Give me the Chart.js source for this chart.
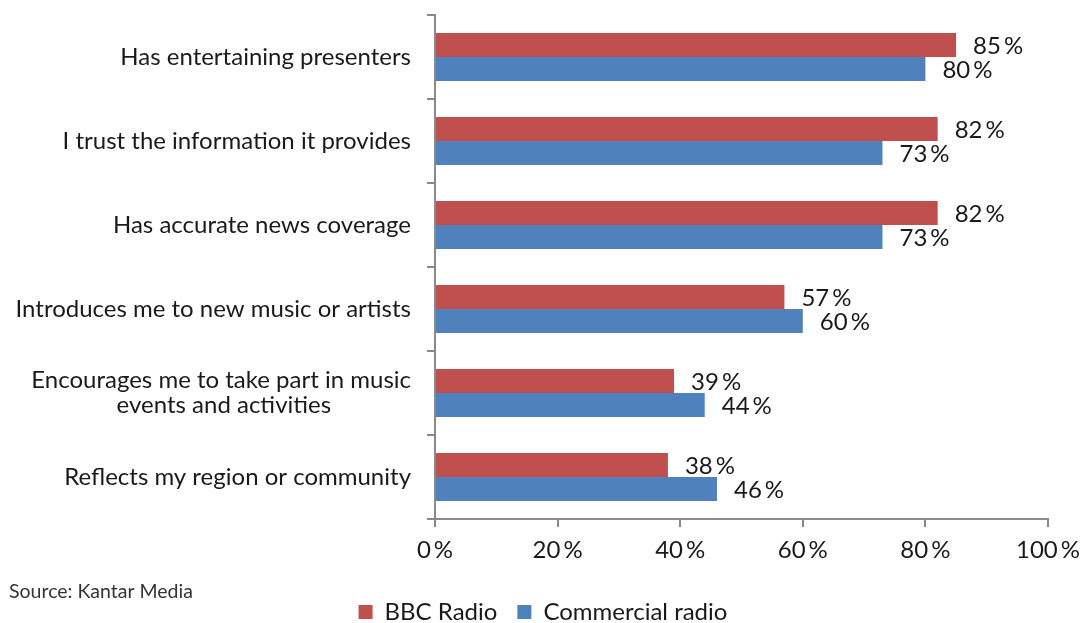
<!DOCTYPE html>
<html>
<head>
<meta charset="utf-8">
<script src="https://cdn.jsdelivr.net/npm/chart.js@4/dist/chart.umd.min.js"></script>
<style>
html,body{margin:0;padding:0;background:#fff;overflow:hidden;}
#wrap{width:1086px;height:623px;position:relative;}
</style>
</head>
<body>
<div id="wrap"><canvas id="c" width="1086" height="623"></canvas></div>
<script>
const categories = [
  "Has entertaining presenters",
  "I trust the information it provides",
  "Has accurate news coverage",
  "Introduces me to new music or artists",
  ["Encourages me to take part in music", "events and activities"],
  "Reflects my region or community"
];
const seriesNames = ["BBC Radio", "Commercial radio"];
const bbcValues = [85, 82, 82, 57, 39, 38];
const commercialValues = [80, 73, 73, 60, 44, 46];
const xTicks = [0, 20, 40, 60, 80, 100];
const sourceText = "Source: Kantar Media";

const FONT = "Lato, 'Open Sans', sans-serif";
const PCT = "\u2009%";
const LABEL_FONT_SIZE = 24;

// centre the lines of multi-line category labels (right-aligned block)
const measureCtx = document.createElement('canvas').getContext('2d');
function centreLines(label) {
  if (!Array.isArray(label)) return label;
  measureCtx.font = LABEL_FONT_SIZE + "px " + FONT;
  const widths = label.map(l => measureCtx.measureText(l).width);
  const maxW = Math.max(...widths);
  const spaceW = measureCtx.measureText("\u00a0").width || 5;
  return label.map((l, i) => {
    const n = Math.round((maxW - widths[i]) / 2 / spaceW);
    return l + "\u00a0".repeat(n);
  });
}

const valueLabels = {
  id: 'valueLabels',
  afterDatasetsDraw(chart) {
    const ctx = chart.ctx;
    ctx.save();
    ctx.font = "24px " + FONT;
    ctx.fillStyle = "#1a1a1a";
    ctx.textAlign = "left";
    ctx.textBaseline = "middle";
    chart.data.datasets.forEach((ds, di) => {
      const meta = chart.getDatasetMeta(di);
      meta.data.forEach((bar, i) => {
        ctx.fillText(ds.data[i] + PCT, bar.x + 17, bar.y + 1);
      });
    });
    ctx.restore();
  },
  afterDraw(chart) {
    const ctx = chart.ctx;
    ctx.save();
    ctx.font = "19.5px " + FONT;
    ctx.fillStyle = "#333";
    ctx.textAlign = "left";
    ctx.textBaseline = "middle";
    ctx.fillText(sourceText, 9, 592);
    ctx.restore();
  }
};

new Chart(document.getElementById('c'), {
  type: 'bar',
  data: {
    labels: categories,
    datasets: [
      { label: seriesNames[0], data: bbcValues, backgroundColor: '#C0504D', categoryPercentage: 0.571, barPercentage: 1.0 },
      { label: seriesNames[1], data: commercialValues, backgroundColor: '#4F81BD', categoryPercentage: 0.571, barPercentage: 1.0 }
    ]
  },
  options: {
    indexAxis: 'y',
    responsive: false,
    animation: false,
    layout: { padding: { top: 15, right: 0, left: 0, bottom: -11 } },
    plugins: {
      tooltip: { enabled: false },
      legend: {
        position: 'bottom',
        labels: {
          boxWidth: 14, boxHeight: 14, padding: 20,
          color: '#1a1a1a',
          font: { family: FONT, size: 24 }
        }
      }
    },
    scales: {
      x: {
        min: 0, max: 100,
        afterBuildTicks(scale) { scale.ticks = xTicks.map(v => ({ value: v })); },
        afterFit(scale) { scale.height = 61; scale.paddingLeft = 0; scale.paddingRight = 38; },
        ticks: {
          color: '#1a1a1a',
          padding: 9,
          font: { family: FONT, size: 24 },
          callback: v => v + PCT
        },
        grid: { drawOnChartArea: false, drawTicks: true, tickLength: 8, color: '#8a8a8a', lineWidth: 2 },
        border: { color: '#8a8a8a', width: 2 }
      },
      y: {
        afterFit(scale) { scale.width = 435; scale.paddingTop = 0; scale.paddingBottom = 0; },
        ticks: {
          color: '#1a1a1a',
          padding: 16,
          font: { family: FONT, size: LABEL_FONT_SIZE, lineHeight: 1.05 },
          callback: function (value) { return centreLines(this.getLabelForValue(value)); }
        },
        grid: { drawOnChartArea: false, drawTicks: true, tickLength: 8, color: '#8a8a8a', lineWidth: 2, offset: true },
        border: { color: '#8a8a8a', width: 2 }
      }
    }
  },
  plugins: [valueLabels]
});
</script>
</body>
</html>
